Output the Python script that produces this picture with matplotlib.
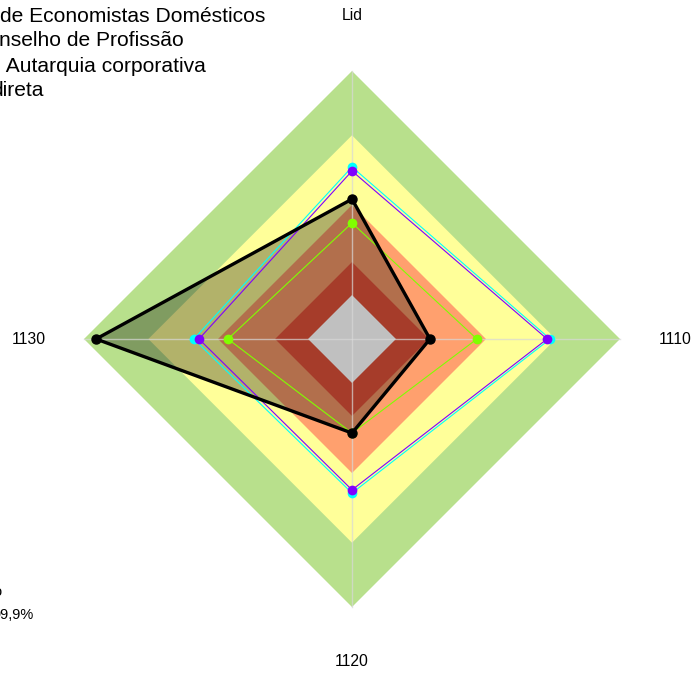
import numpy as np
import matplotlib.pyplot as plt

plt.rcParams['font.family'] = ['Liberation Sans', 'DejaVu Sans']

# axes of the radar, clockwise from the top
axis_labels = ["Lid", "1110", "1120", "1130"]

# background bands (outer limit of each band, 1 = outer edge)
band_limits = [1.0, 0.76, 0.50, 0.287, 0.164]
band_colors = ["#b8e08c", "#ffff99", "#ffa06e", "#a63c2a", "#c0c0c0"]

# series values, same order as axis_labels
cyan_vals = [0.642, 0.739, 0.575, 0.590]
purple_vals = [0.627, 0.728, 0.563, 0.571]
green_vals = [0.433, 0.466, 0.351, 0.463]
black_vals = [0.522, 0.291, 0.351, 0.955]

legend_lines = ["de Economistas Domésticos", "nselho de Profissão",
                " Autarquia corporativa", "direta"]

angles = np.deg2rad([90, 0, 270, 180])


def to_xy(vals):
    r = np.asarray(vals, dtype=float)
    x = r * np.cos(angles)
    y = r * np.sin(angles)
    return np.append(x, x[0]), np.append(y, y[0])


fig = plt.figure(figsize=(6.96, 6.73), dpi=100)
ax = fig.add_axes([0, 0, 1, 1])
R = 268.0
cx, cy = 352.0, 673 - 339.0
ax.set_xlim(-cx / R, (696 - cx) / R)
ax.set_ylim(-cy / R, (673 - cy) / R)
ax.axis("off")

# bands: outer three, then series fill, then inner two
for lim, col in zip(band_limits[:3], band_colors[:3]):
    bx, by = to_xy([lim] * 4)
    ax.fill(bx, by, color=col, lw=0, zorder=1)

bx, by = to_xy(black_vals)
ax.fill(bx, by, color="black", alpha=0.3, lw=0, zorder=2)

for lim, col in zip(band_limits[3:], band_colors[3:]):
    bx, by = to_xy([lim] * 4)
    ax.fill(bx, by, color=col, lw=0, zorder=3)

# radial grid lines
for a in angles:
    ax.plot([0, np.cos(a) * 1.0], [0, np.sin(a) * 1.0], color="#d8d8d8",
            lw=1, alpha=0.7, zorder=4)

# series
for vals, col, lw, ms in [(cyan_vals, "#00ffff", 0.8, 7),
                          (purple_vals, "#8000ff", 0.8, 7),
                          (green_vals, "#80ff00", 0.8, 7)]:
    x, y = to_xy(vals)
    ax.plot(x, y, color=col, lw=lw, zorder=5)
    ax.plot(x[:-1], y[:-1], "o", color=col, ms=ms, mec="none", zorder=6)

x, y = to_xy(black_vals)
ax.plot(x, y, color="black", lw=2.4, zorder=7)
ax.plot(x[:-1], y[:-1], "o", color="black", ms=6.5, zorder=8)

# axis labels
lab_r = 323 / R
for a, lab in zip(angles, axis_labels):
    ax.text(lab_r * np.cos(a), lab_r * np.sin(a), lab, ha="center",
            va="center", fontsize=11.3)

# cut-off legend texts
for i, txt in enumerate(legend_lines):
    xoff = [0, -1, 1, -9][i]
    fig.text(xoff / 696, 1 - (16 + 25 * i) / 673, txt, fontsize=15.1,
             ha="left", va="center")

fig.text(-7 / 696, 1 - 592 / 673, "o", fontsize=10.5, ha="left", va="center")
fig.text(-8 / 696, 1 - 615 / 673, "99,9%", fontsize=10.5, ha="left",
         va="center")

fig.savefig("out.png", dpi=100)
